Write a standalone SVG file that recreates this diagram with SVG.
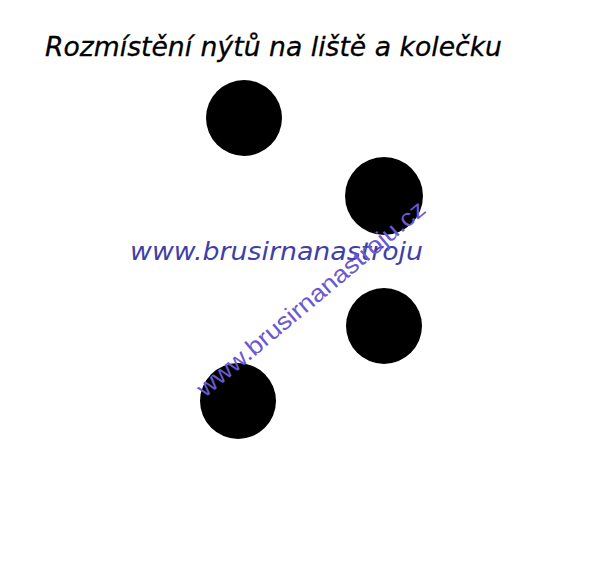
<svg xmlns="http://www.w3.org/2000/svg" width="600" height="572" viewBox="0 0 600 572">
<style>
.dot{fill:#000}
.title{font-family:"DejaVu Sans",sans-serif;font-style:oblique;font-size:27px;fill:#000;stroke:#000;stroke-width:0.3}
.wm1{font-family:"DejaVu Sans",sans-serif;font-style:oblique;font-size:24px;fill:#3f3fa8}
.wm2{font-family:"Liberation Sans",Arial,sans-serif;font-size:24px;fill:#6a5ad0}
</style>
<rect width="600" height="572" fill="#fff"/>
<text class="title" x="45" y="56" textLength="457" lengthAdjust="spacingAndGlyphs">Rozmístění nýtů na liště a kolečku</text>
<g id="rivet1"><circle class="dot" cx="244" cy="118" r="38"/></g>
<g id="rivet2"><circle class="dot" cx="384" cy="196" r="39"/></g>
<g id="rivet3"><circle class="dot" cx="384" cy="326" r="38"/></g>
<g id="rivet4"><circle class="dot" cx="238" cy="401" r="38"/></g>
<text class="wm1" x="130" y="260" textLength="293" lengthAdjust="spacingAndGlyphs">www.brusirnanastroju</text>
<text class="wm2" transform="translate(205,398) rotate(-40)" x="0" y="0" textLength="290" lengthAdjust="spacingAndGlyphs">www.brusirnanastroju.cz</text>
</svg>
